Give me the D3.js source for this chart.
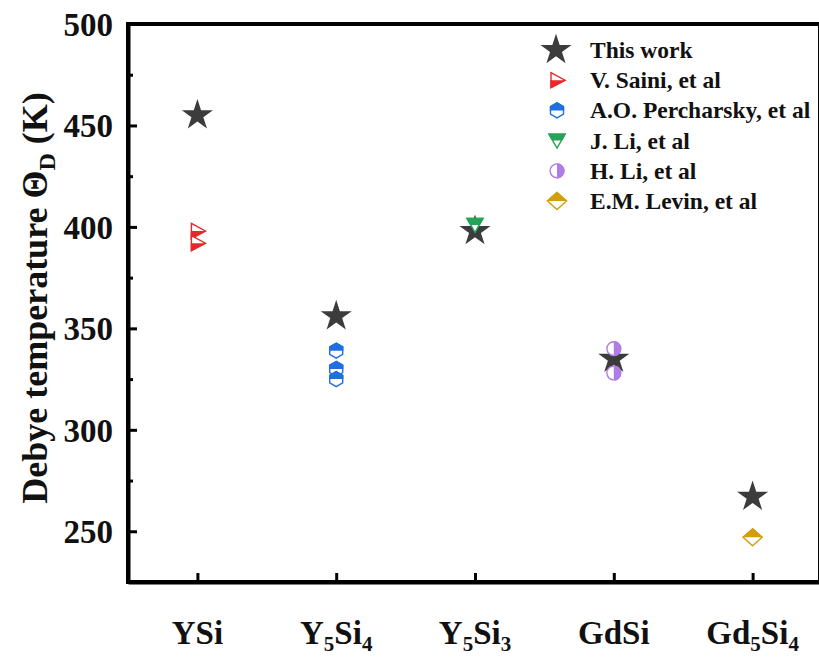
<!DOCTYPE html>
<html>
<head>
<meta charset="utf-8">
<script src="https://d3js.org/d3.v7.min.js"></script>
<style>
  body { margin: 0; background: #fff; }
  text { font-family: "Liberation Serif", "Times New Roman", serif; font-weight: bold; fill: #111; }
</style>
</head>
<body>
<script>
var w = 819, h = 657;

// categories and tick labels (pieces: [text, subscript?])
var categories = ["YSi", "Y5Si4", "Y5Si3", "GdSi", "Gd5Si4"];
var catLabels = [
  [["YSi", false]],
  [["Y", false], ["5", true], ["Si", false], ["4", true]],
  [["Y", false], ["5", true], ["Si", false], ["3", true]],
  [["GdSi", false]],
  [["Gd", false], ["5", true], ["Si", false], ["4", true]]
];
var yTicks = [250, 300, 350, 400, 450, 500];
var yMinorTicks = [275, 325, 375, 425, 475];

// this work
var thisWork = [455, 356, 398, 335, 267];
// literature values
var sainiCat = ["YSi", "YSi"],                       sainiVal = [398, 392];
var percharskyCat = ["Y5Si4", "Y5Si4", "Y5Si4"],     percharskyVal = [339, 330, 325];
var jliCat = ["Y5Si3"],                              jliVal = [401];
var hliCat = ["GdSi", "GdSi"],                       hliVal = [340, 328];
var levinCat = ["Gd5Si4"],                           levinVal = [247];

var margin = {left: 128, top: 24, right: 820, bottom: 582};

var x = d3.scaleLinear().domain([0.5, 5.5]).range([margin.left, 822]);
var y = d3.scaleLinear().domain([225, 500]).range([margin.bottom, margin.top]);
function xc(cat) { return x(categories.indexOf(cat) + 1); }

var svg = d3.select("body").append("svg")
  .attr("width", w)
  .attr("height", h);

// clip paths for half filled symbols (local coords)
var defs = svg.append("defs");
var halves = {
  top: [-20, -20, 40, 20],
  bottom: [-20, 0, 40, 20],
  right: [0, -20, 20, 40]
};
Object.keys(halves).forEach(function(k) {
  var r = halves[k];
  defs.append("clipPath").attr("id", "half-" + k)
    .append("rect").attr("x", r[0]).attr("y", r[1]).attr("width", r[2]).attr("height", r[3]);
});

var shapes = {
  triRight: "M-6,-7.5L8,0L-6,7.5Z",
  hex: "M0,-7.5L6.5,-3.75L6.5,3.75L0,7.5L-6.5,3.75L-6.5,-3.75Z",
  triDown: "M-8,-6.5L8,-6.5L0,7.5Z",
  circle: d3.symbol(d3.symbolCircle, 150)(),
  diamond: "M0,-8.5L9.5,0L0,8.5L-9.5,0Z"
};
var starPath = d3.symbol(d3.symbolStar, 300)();

var series = [
  {name: "V. Saini, et al",          cats: sainiCat,      vals: sainiVal,      shape: "triRight", half: "bottom", color: "#e8282b"},
  {name: "A.O. Percharsky, et al",   cats: percharskyCat, vals: percharskyVal, shape: "hex",      half: "top",    color: "#1f6fe0"},
  {name: "J. Li, et al",             cats: jliCat,        vals: jliVal,        shape: "triDown",  half: "top",    color: "#23a456"},
  {name: "H. Li, et al",             cats: hliCat,        vals: hliVal,        shape: "circle",   half: "right",  color: "#b07de6"},
  {name: "E.M. Levin, et al",        cats: levinCat,      vals: levinVal,      shape: "diamond",  half: "top",    color: "#d29e0c"}
];

function drawMarker(g, s) {
  g.append("path").attr("d", shapes[s.shape])
    .attr("fill", "#fff").attr("stroke", s.color).attr("stroke-width", 1.4);
  g.append("path").attr("d", shapes[s.shape])
    .attr("fill", s.color).attr("stroke", s.color).attr("stroke-width", 1.4)
    .attr("clip-path", "url(#half-" + s.half + ")");
}

// frame
svg.append("rect")
  .attr("x", margin.left).attr("y", margin.top)
  .attr("width", margin.right - margin.left).attr("height", margin.bottom - margin.top)
  .attr("fill", "none").attr("stroke", "#000").attr("stroke-width", 4);

// y axis
var yAxis = svg.append("g")
  .attr("transform", "translate(" + margin.left + ",0)")
  .call(d3.axisLeft(y).tickValues(yTicks).tickSize(-9).tickSizeOuter(0).tickPadding(15));
yAxis.selectAll("text").style("font-size", "33px").attr("dy", "0.34em");
yAxis.select(".domain").attr("stroke-width", 4);
yAxis.selectAll(".tick line").attr("stroke-width", 3);

var yMinor = svg.append("g")
  .attr("transform", "translate(" + margin.left + ",0)")
  .call(d3.axisLeft(y).tickValues(yMinorTicks).tickSize(-5).tickSizeOuter(0).tickFormat(""));
yMinor.select(".domain").remove();
yMinor.selectAll(".tick line").attr("stroke-width", 3);

// x axis
var xAxis = svg.append("g")
  .attr("transform", "translate(0," + margin.bottom + ")")
  .call(d3.axisBottom(x).tickValues([1, 2, 3, 4, 5]).tickSize(-9).tickSizeOuter(0).tickFormat(""));
xAxis.select(".domain").attr("stroke-width", 4);
xAxis.selectAll(".tick line").attr("stroke-width", 3);

svg.selectAll("text.xlab")
  .data(catLabels)
  .join("text")
  .attr("class", "xlab")
  .attr("x", function(d, i) { return x(i + 1); })
  .attr("y", 644)
  .attr("text-anchor", "middle")
  .style("font-size", "33px")
  .each(function(parts) {
    var t = d3.select(this);
    var prevSub = false;
    parts.forEach(function(p) {
      var ts = t.append("tspan").text(p[0]);
      if (p[1]) { ts.style("font-size", "21px").attr("dy", prevSub ? 0 : 7); }
      else if (prevSub) { ts.attr("dy", -7); }
      prevSub = p[1];
    });
  });

// y title
var yt = svg.append("text")
  .attr("transform", "translate(47,298) rotate(-90)")
  .attr("text-anchor", "middle")
  .style("font-size", "36px");
yt.append("tspan").text("Debye temperature \u0398");
yt.append("tspan").text("D").style("font-size", "24px").attr("dy", 8);
yt.append("tspan").text(" (K)").attr("dy", -8);

// this work stars
svg.selectAll("path.star")
  .data(thisWork)
  .join("path")
  .attr("class", "star")
  .attr("d", starPath)
  .attr("transform", function(d, i) { return "translate(" + x(i + 1) + "," + y(d) + ")"; })
  .attr("fill", "#3c3c3c");

// literature points
series.forEach(function(s) {
  s.vals.forEach(function(v, i) {
    var g = svg.append("g").attr("transform", "translate(" + xc(s.cats[i]) + "," + y(v) + ")");
    drawMarker(g, s);
  });
});

// legend
var lg = svg.append("g");
var rowY = function(i) { return 50 + i * 30.2; };
lg.append("path").attr("d", starPath)
  .attr("transform", "translate(556," + rowY(0) + ")")
  .attr("fill", "#3c3c3c");
lg.append("text").attr("x", 590).attr("y", rowY(0)).attr("dy", "0.34em")
  .style("font-size", "23.5px").text("This work");
series.forEach(function(s, i) {
  var g = lg.append("g").attr("transform", "translate(557," + rowY(i + 1) + ")");
  drawMarker(g, s);
  lg.append("text").attr("x", 590).attr("y", rowY(i + 1)).attr("dy", "0.34em")
    .style("font-size", "23.5px").text(s.name);
});
</script>
</body>
</html>
